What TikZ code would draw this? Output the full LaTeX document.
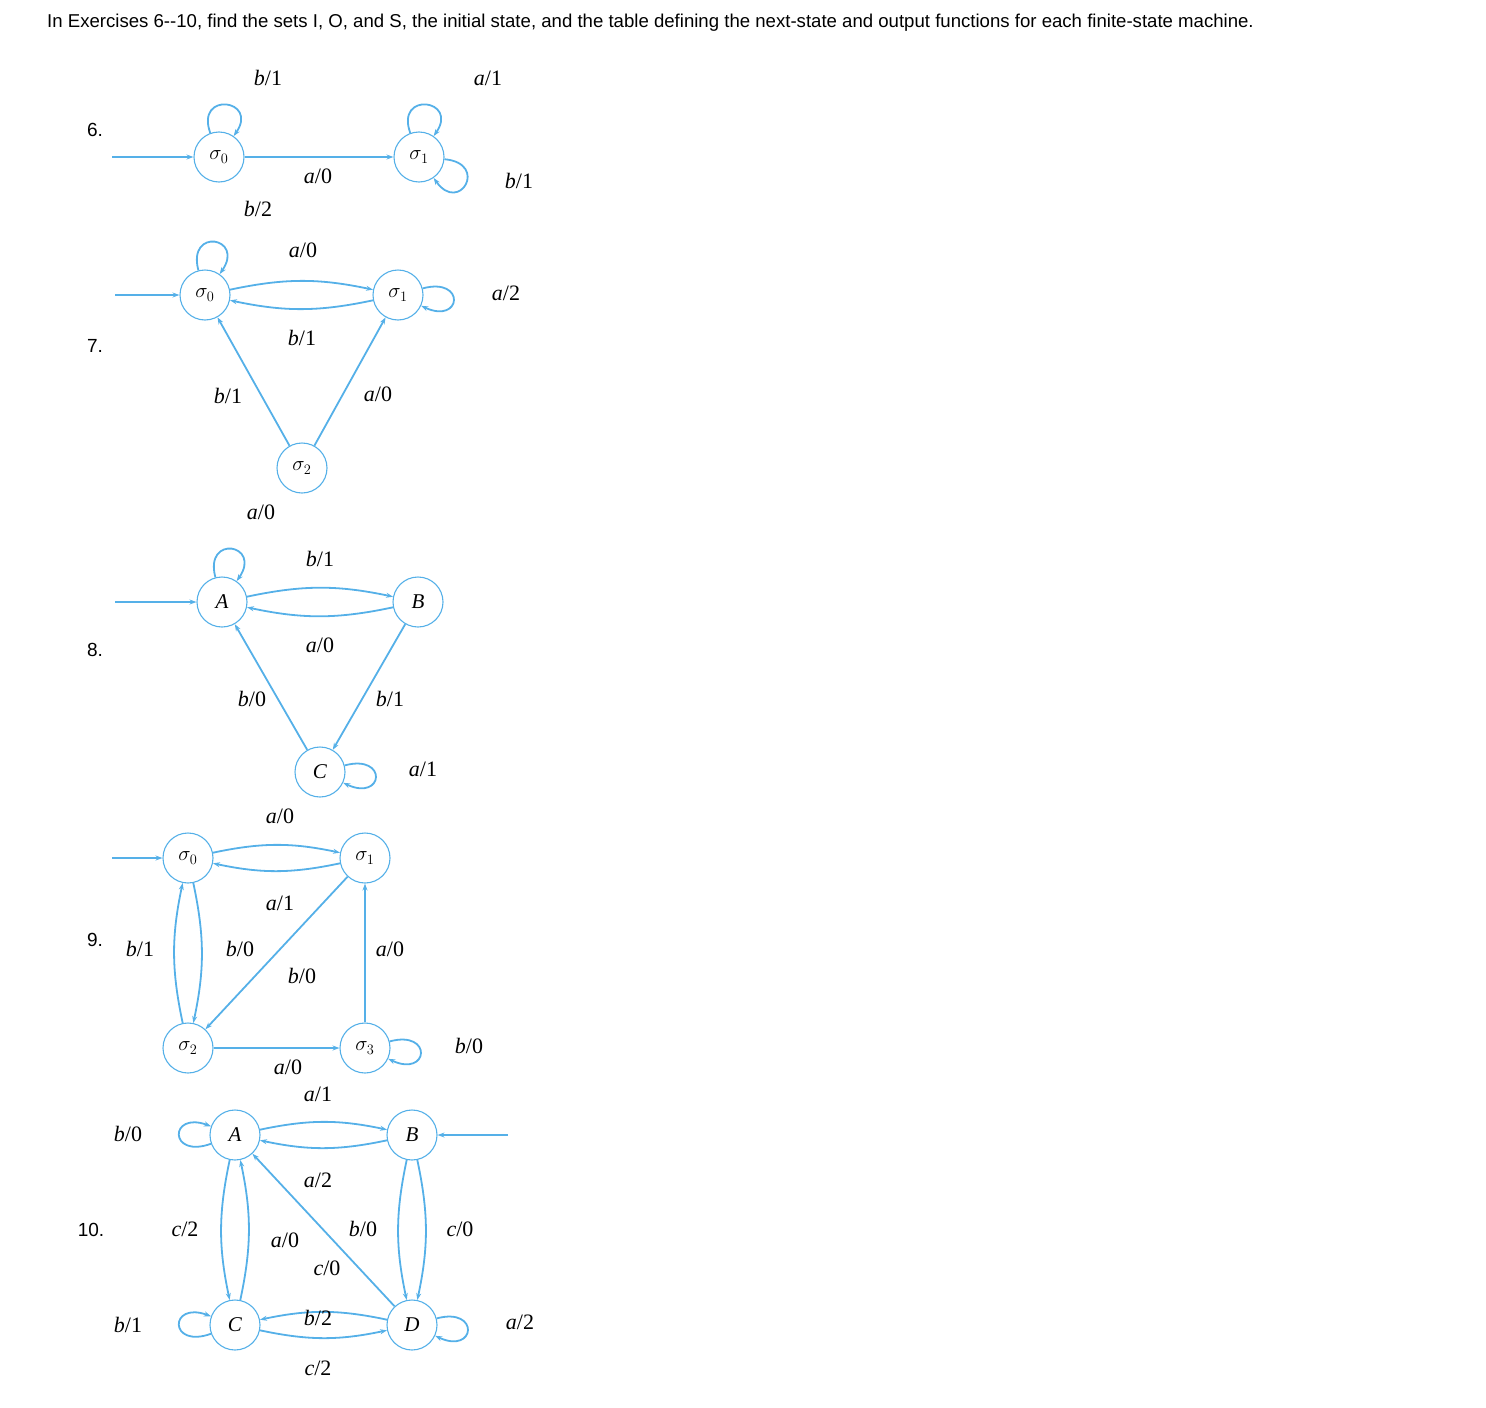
\documentclass[tikz,border=0pt]{standalone}
\usepackage{fontspec}
\setmainfont{Liberation Serif}
\newfontfamily\hdr{Liberation Sans}
\usetikzlibrary{arrows.meta}
\definecolor{fsm}{HTML}{55B0E8}
\newcommand{\lb}[2]{\textit{#1}/#2}
\begin{document}
\begin{tikzpicture}[x=1pt,y=-1pt,
 st/.style={circle,draw=fsm,line width=1.1pt,minimum size=50pt,inner sep=0pt,font=\fontsize{21}{21}\selectfont},
 tr/.style={draw=fsm,line width=1.8pt,-{Stealth[length=7pt,width=5pt]}},
 lab/.style={font=\fontsize{22}{22}\selectfont,inner sep=0pt},
 num/.style={font=\hdr\fontsize{19}{19}\selectfont,inner sep=0pt},
 lp/.style={tr,looseness=1,min distance=45pt}]
\useasboundingbox (0,0) rectangle (1486,1408);
\node[anchor=west,font=\hdr\fontsize{18.6}{18.6}\selectfont,inner sep=0pt] (hd) at (47,23) {In Exercises 6--10, find the sets I, O, and S, the initial state, and the table defining the next-state and output functions for each finite-state machine.};
% 6
\node[num] (n6) at (95,130) {6.};
\node[st] (a0) at (219,157) {$\sigma_0$};
\node[st] (a1) at (419,157) {$\sigma_1$};
\coordinate (ai) at (112,157);
\draw[tr] (ai) -- (a0);
\draw[tr] (a0) -- (a1);
\draw[lp] (a0) to[out=110,in=55] (a0);
\draw[lp] (a1) to[out=110,in=55] (a1);
\draw[lp] (a1) to[out=-5,in=-55] (a1);
\node[lab] (l61) at (268,78) {\lb{b}{1}};
\node[lab] (l62) at (318,176) {\lb{a}{0}};
\node[lab] (l63) at (488,78) {\lb{a}{1}};
\node[lab] (l64) at (519,181) {\lb{b}{1}};
% 7
\node[num] (n7) at (95,346) {7.};
\node[st] (b0) at (205,295) {$\sigma_0$};
\node[st] (b1) at (398,295) {$\sigma_1$};
\node[st] (b2) at (302,468) {$\sigma_2$};
\coordinate (bi) at (115,295);
\draw[tr] (bi) -- (b0);
\draw[tr] (b0) to[bend left=12] (b1);
\draw[tr] (b1) to[bend left=12] (b0);
\draw[tr] (b2) -- (b1);
\draw[tr] (b2) -- (b0);
\draw[lp] (b0) to[out=105,in=55] (b0);
\draw[lp] (b1) to[out=15,in=-25] (b1);
\node[lab] (l71) at (258,209) {\lb{b}{2}};
\node[lab] (l72) at (303,250) {\lb{a}{0}};
\node[lab] (l73) at (302,338) {\lb{b}{1}};
\node[lab] (l74) at (506,293) {\lb{a}{2}};
\node[lab] (l75) at (228,396) {\lb{b}{1}};
\node[lab] (l76) at (378,394) {\lb{a}{0}};
% 8
\node[num] (n8) at (95,650) {8.};
\node[st] (cA) at (222,602) {\textit{A}};
\node[st] (cB) at (418,602) {\textit{B}};
\node[st] (cC) at (320,772) {\textit{C}};
\coordinate (ci) at (115,602);
\draw[tr] (ci) -- (cA);
\draw[tr] (cA) to[bend left=12] (cB);
\draw[tr] (cB) to[bend left=12] (cA);
\draw[tr] (cB) -- (cC);
\draw[tr] (cC) -- (cA);
\draw[lp] (cA) to[out=105,in=55] (cA);
\draw[lp] (cC) to[out=15,in=-25] (cC);
\node[lab] (l81) at (261,512) {\lb{a}{0}};
\node[lab] (l82) at (320,559) {\lb{b}{1}};
\node[lab] (l83) at (320,645) {\lb{a}{0}};
\node[lab] (l84) at (252,699) {\lb{b}{0}};
\node[lab] (l85) at (390,699) {\lb{b}{1}};
\node[lab] (l86) at (423,769) {\lb{a}{1}};
% 9
\node[num] (n9) at (95,940) {9.};
\node[st] (d0) at (188,858) {$\sigma_0$};
\node[st] (d1) at (365,858) {$\sigma_1$};
\node[st] (d2) at (188,1048) {$\sigma_2$};
\node[st] (d3) at (365,1048) {$\sigma_3$};
\coordinate (di) at (112,858);
\draw[tr] (di) -- (d0);
\draw[tr] (d0) to[bend left=12] (d1);
\draw[tr] (d1) to[bend left=12] (d0);
\draw[tr] (d2) to[bend left=12] (d0);
\draw[tr] (d0) to[bend left=12] (d2);
\draw[tr] (d1) -- (d2);
\draw[tr] (d3) -- (d1);
\draw[tr] (d2) -- (d3);
\draw[lp] (d3) to[out=15,in=-25] (d3);
\node[lab] (l91) at (280,816) {\lb{a}{0}};
\node[lab] (l92) at (280,903) {\lb{a}{1}};
\node[lab] (l93) at (140,949) {\lb{b}{1}};
\node[lab] (l94) at (240,949) {\lb{b}{0}};
\node[lab] (l95) at (302,976) {\lb{b}{0}};
\node[lab] (l96) at (390,949) {\lb{a}{0}};
\node[lab] (l97) at (288,1067) {\lb{a}{0}};
\node[lab] (l98) at (469,1046) {\lb{b}{0}};
% 10
\node[num] (n10) at (91,1230) {10.};
\node[st] (eA) at (235,1135) {\textit{A}};
\node[st] (eB) at (412,1135) {\textit{B}};
\node[st] (eC) at (235,1325) {\textit{C}};
\node[st] (eD) at (412,1325) {\textit{D}};
\coordinate (ei) at (508,1135);
\draw[tr] (ei) -- (eB);
\draw[tr] (eA) to[bend left=12] (eB);
\draw[tr] (eB) to[bend left=12] (eA);
\draw[tr] (eA) to[bend right=12] (eC);
\draw[tr] (eC) to[bend right=12] (eA);
\draw[tr] (eB) to[bend right=12] (eD);
\draw[tr] (eB) to[bend left=12] (eD);
\draw[tr] (eD) -- (eA);
\draw[tr] (eD) to[bend right=12] (eC);
\draw[tr] (eC) to[bend right=12] (eD);
\draw[lp] (eA) to[out=200,in=160] (eA);
\draw[lp] (eC) to[out=200,in=160] (eC);
\draw[lp] (eD) to[out=15,in=-25] (eD);
\node[lab] (la1) at (318,1094) {\lb{a}{1}};
\node[lab] (la2) at (318,1180) {\lb{a}{2}};
\node[lab] (la3) at (128,1134) {\lb{b}{0}};
\node[lab] (la4) at (185,1229) {\lb{c}{2}};
\node[lab] (la5) at (285,1240) {\lb{a}{0}};
\node[lab] (la6) at (363,1229) {\lb{b}{0}};
\node[lab] (la7) at (460,1229) {\lb{c}{0}};
\node[lab] (la8) at (327,1268) {\lb{c}{0}};
\node[lab] (la9) at (318,1318) {\lb{b}{2}};
\node[lab] (la10) at (318,1368) {\lb{c}{2}};
\node[lab] (la11) at (128,1325) {\lb{b}{1}};
\node[lab] (la12) at (520,1322) {\lb{a}{2}};
\end{tikzpicture}
\end{document}
